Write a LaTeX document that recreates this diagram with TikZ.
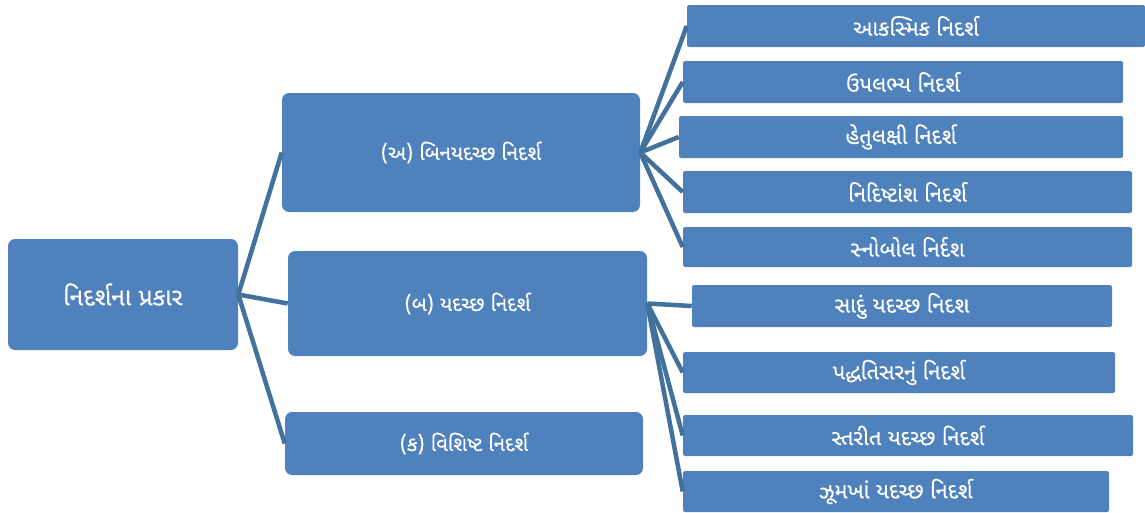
\documentclass[tikz,border=0pt]{standalone}
\usepackage{fontspec}
\newfontfamily\gujfont[Script=Gujarati,FakeBold=0.3]{Noto Sans Gujarati UI}
\definecolor{boxblue}{HTML}{4F81BD}
\definecolor{lineblue}{HTML}{41719C}
\begin{document}
\begin{tikzpicture}[x=0.025cm,y=-0.025cm,
        bigbox/.style={fill=boxblue,rounded corners=5pt,text=white,inner sep=0pt,
            font=\gujfont\fontsize{14.5}{16}\selectfont},
        smallbox/.style={fill=boxblue,rounded corners=1.5pt,text=white,inner sep=0pt,
            font=\gujfont\fontsize{15.5}{17}\selectfont},
        link/.style={lineblue,line width=3.2pt}]
                \useasboundingbox (0,0) rectangle (1145,513);

                % left and middle column
                \node[bigbox,minimum width=230*0.025cm,minimum height=111*0.025cm,font=\gujfont\fontsize{17.5}{19}\selectfont] (prakar) at (123,294.5) {નિદર્શના પ્રકાર};
                \node[bigbox,minimum width=358*0.025cm,minimum height=119*0.025cm] (binyadachchh) at (461,152.5) {(અ) બિનયદચ્છ નિદર્શ};
                \node[bigbox,minimum width=359*0.025cm,minimum height=105*0.025cm] (yadachchh) at (467.5,303.5) {(બ) યદચ્છ નિદર્શ};
                \node[bigbox,minimum width=358*0.025cm,minimum height=63*0.025cm] (vishisht) at (464,443.5) {(ક) વિશિષ્ટ નિદર્શ};

                % right column
                \node[smallbox,minimum width=458*0.025cm,minimum height=42*0.025cm] (akasmik) at (916,26) {આકસ્મિક નિદર્શ};
                \node[smallbox,minimum width=440*0.025cm,minimum height=42*0.025cm] (upalabhya) at (903,82) {ઉપલભ્ય નિદર્શ};
                \node[smallbox,minimum width=444*0.025cm,minimum height=42*0.025cm] (hetulakshi) at (901,137) {હેતુલક્ષી નિદર્શ};
                \node[smallbox,minimum width=449*0.025cm,minimum height=42*0.025cm] (nidishtansh) at (907.5,192) {નિદિષ્ટાંશ નિદર્શ};
                \node[smallbox,minimum width=449*0.025cm,minimum height=40*0.025cm] (snowball) at (907.5,247) {સ્નોબોલ નિર્દશ};
                \node[smallbox,minimum width=420*0.025cm,minimum height=42*0.025cm] (sadu) at (902,306) {સાદું યદચ્છ નિદશ};
                \node[smallbox,minimum width=432*0.025cm,minimum height=41*0.025cm] (paddhati) at (899,372.5) {પદ્ધતિસરનું નિદર્શ};
                \node[smallbox,minimum width=450*0.025cm,minimum height=41*0.025cm] (starit) at (908,435.5) {સ્તરીત યદચ્છ નિદર્શ};
                \node[smallbox,minimum width=426*0.025cm,minimum height=41*0.025cm] (jhumkha) at (896,491.5) {ઝૂમખાં યદચ્છ નિદર્શ};

                % connectors
                \foreach \t in {binyadachchh,yadachchh,vishisht}
                    \draw[link] (prakar.east) -- (\t.west);
                \foreach \t in {akasmik,upalabhya,hetulakshi,nidishtansh,snowball}
                    \draw[link] (binyadachchh.east) -- (\t.west);
                \foreach \t in {sadu,paddhati,starit,jhumkha}
                    \draw[link] (yadachchh.east) -- (\t.west);
            \end{tikzpicture}
\end{document}
